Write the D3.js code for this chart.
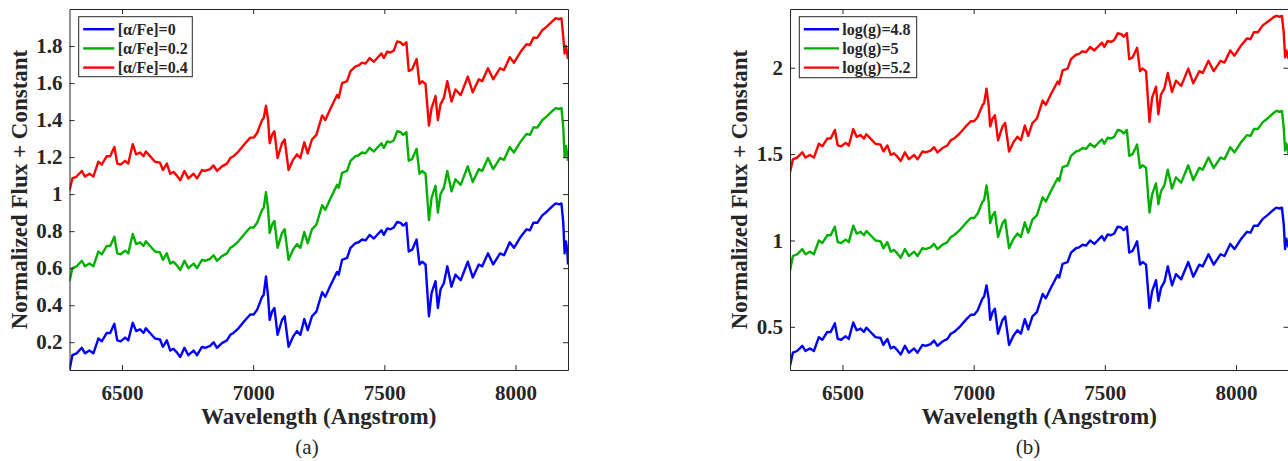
<!DOCTYPE html>
<html><head><meta charset="utf-8">
<script src="https://cdn.jsdelivr.net/npm/d3@7"></script>
<style>
body{margin:0;background:#fff;overflow:hidden}
svg{display:block}
text{font-family:"Liberation Serif","Times New Roman",serif;fill:#262626}
</style>
</head><body><svg id="c" width="1288" height="461"></svg>
<script>
// ---------- DATA ----------
const wavelength = [6300,6311,6327,6347,6359,6376,6391,6410,6423,6442,
6455,6471,6482,6495,6512,6524,6541,6554,6569,6582,
6591,6607,6626,6645,6656,6671,6684,6696,6709,6722,
6738,6753,6773,6786,6805,6817,6836,6849,6862,6881,
6900,6913,6925,6944,6970,6989,7002,7015,7034,7040,
7049,7057,7063,7072,7081,7093,7110,7120,7135,7152,
7167,7180,7195,7208,7224,7241,7263,7275,7294,7320,
7326,7339,7358,7371,7390,7402,7415,7428,7444,7460,
7479,7489,7498,7511,7523,7536,7549,7562,7572,7584,
7593,7606,7623,7634,7644,7657,7670,7680,7695,7704,
7714,7727,7740,7756,7771,7791,7818,7837,7860,7873,
7895,7915,7941,7956,7978,7994,8020,8042,8055,8068,
8083,8102,8119,8141,8153,8166,8175,8182,8187,8192,
8197,8200];

// panel (a)
const alphaFe00 = [0.05,0.13,0.14,0.17,0.14,0.155,0.14,0.22,0.205,0.25,
0.25,0.30,0.21,0.205,0.225,0.21,0.305,0.26,0.27,0.25,
0.275,0.25,0.22,0.215,0.175,0.21,0.155,0.165,0.145,0.12,
0.17,0.13,0.155,0.13,0.175,0.17,0.18,0.20,0.17,0.195,
0.21,0.24,0.25,0.275,0.32,0.35,0.35,0.375,0.445,0.455,
0.555,0.445,0.32,0.365,0.385,0.24,0.32,0.34,0.175,0.23,
0.26,0.24,0.325,0.265,0.34,0.365,0.47,0.445,0.505,0.58,
0.565,0.645,0.655,0.71,0.735,0.74,0.755,0.75,0.78,0.76,
0.79,0.805,0.78,0.815,0.81,0.82,0.85,0.845,0.83,0.845,
0.69,0.70,0.755,0.62,0.635,0.62,0.34,0.465,0.53,0.385,
0.485,0.52,0.61,0.50,0.565,0.535,0.635,0.55,0.62,0.61,
0.68,0.62,0.68,0.67,0.74,0.71,0.77,0.81,0.805,0.845,
0.845,0.885,0.905,0.935,0.95,0.945,0.95,0.845,0.68,0.745,
0.70,0.62];
const alphaFe02 = [0.53,0.60,0.61,0.64,0.61,0.625,0.61,0.69,0.675,0.72,
0.72,0.77,0.68,0.675,0.695,0.68,0.785,0.73,0.74,0.72,
0.745,0.72,0.69,0.685,0.645,0.68,0.625,0.635,0.615,0.59,
0.64,0.60,0.625,0.60,0.645,0.64,0.65,0.67,0.64,0.665,
0.68,0.71,0.72,0.745,0.79,0.82,0.82,0.845,0.915,0.925,
1.01,0.915,0.79,0.835,0.855,0.71,0.79,0.81,0.645,0.70,
0.73,0.71,0.795,0.735,0.81,0.835,0.94,0.915,0.975,1.05,
1.035,1.115,1.125,1.18,1.205,1.21,1.225,1.22,1.25,1.23,
1.26,1.275,1.25,1.285,1.28,1.29,1.34,1.335,1.32,1.335,
1.18,1.19,1.245,1.11,1.125,1.11,0.86,0.98,1.045,0.90,
1.0,1.035,1.125,1.015,1.08,1.05,1.15,1.065,1.135,1.125,
1.195,1.135,1.195,1.185,1.255,1.225,1.285,1.325,1.32,1.36,
1.36,1.40,1.42,1.45,1.465,1.46,1.465,1.36,1.20,1.26,
1.22,1.18];
const alphaFe04 = [1.02,1.085,1.095,1.125,1.095,1.11,1.095,1.175,1.16,1.205,
1.205,1.255,1.165,1.16,1.18,1.165,1.27,1.215,1.225,1.205,
1.23,1.205,1.175,1.17,1.13,1.165,1.11,1.12,1.10,1.075,
1.125,1.085,1.11,1.085,1.13,1.125,1.135,1.155,1.125,1.15,
1.165,1.195,1.205,1.23,1.275,1.305,1.305,1.33,1.40,1.41,
1.477,1.40,1.275,1.32,1.34,1.195,1.275,1.295,1.13,1.185,
1.215,1.195,1.28,1.22,1.295,1.32,1.425,1.40,1.46,1.535,
1.52,1.60,1.61,1.665,1.69,1.695,1.71,1.705,1.735,1.715,
1.745,1.76,1.735,1.77,1.765,1.775,1.825,1.82,1.805,1.82,
1.665,1.675,1.73,1.595,1.61,1.595,1.37,1.465,1.53,1.40,
1.485,1.52,1.61,1.50,1.565,1.535,1.635,1.55,1.62,1.61,
1.68,1.62,1.68,1.67,1.74,1.71,1.77,1.81,1.805,1.845,
1.845,1.885,1.905,1.935,1.95,1.945,1.95,1.85,1.76,1.80,
1.76,1.73];

// panel (b)
const logg48 = [0.275,0.35,0.36,0.39,0.36,0.375,0.36,0.44,0.425,0.47,
0.47,0.52,0.43,0.425,0.445,0.43,0.525,0.48,0.49,0.47,
0.495,0.47,0.44,0.435,0.395,0.43,0.375,0.385,0.365,0.34,
0.39,0.35,0.375,0.35,0.395,0.39,0.40,0.42,0.39,0.415,
0.43,0.46,0.47,0.495,0.54,0.57,0.57,0.595,0.665,0.675,
0.74,0.665,0.54,0.585,0.605,0.46,0.54,0.56,0.395,0.45,
0.48,0.46,0.545,0.485,0.56,0.585,0.69,0.665,0.725,0.80,
0.785,0.865,0.875,0.93,0.955,0.96,0.975,0.97,1.00,0.98,
1.01,1.025,1.00,1.035,1.03,1.04,1.08,1.075,1.06,1.08,
0.93,0.94,0.995,0.86,0.875,0.86,0.608,0.705,0.77,0.65,
0.725,0.76,0.85,0.74,0.805,0.775,0.875,0.79,0.86,0.85,
0.92,0.86,0.92,0.91,0.98,0.95,1.01,1.05,1.045,1.085,
1.085,1.125,1.145,1.175,1.19,1.185,1.19,1.09,0.95,1.01,
0.98,0.96];
const logg50 = [0.824,0.91,0.92,0.95,0.92,0.935,0.92,1.00,0.985,1.03,
1.03,1.08,0.99,0.985,1.005,0.99,1.085,1.04,1.05,1.03,
1.055,1.03,1.00,0.995,0.955,0.99,0.935,0.945,0.925,0.90,
0.95,0.91,0.935,0.91,0.955,0.95,0.96,0.98,0.95,0.975,
0.99,1.02,1.03,1.055,1.10,1.13,1.13,1.155,1.225,1.235,
1.318,1.225,1.10,1.145,1.165,1.02,1.10,1.12,0.955,1.01,
1.04,1.02,1.105,1.045,1.12,1.145,1.25,1.225,1.285,1.36,
1.345,1.425,1.435,1.49,1.515,1.52,1.535,1.53,1.56,1.54,
1.57,1.585,1.56,1.595,1.59,1.60,1.64,1.635,1.62,1.64,
1.49,1.50,1.555,1.42,1.435,1.42,1.162,1.265,1.33,1.21,
1.285,1.32,1.41,1.30,1.365,1.335,1.435,1.35,1.42,1.41,
1.48,1.42,1.48,1.47,1.54,1.51,1.57,1.61,1.605,1.645,
1.645,1.685,1.705,1.735,1.75,1.745,1.75,1.65,1.52,1.56,
1.53,1.50];
const logg52 = [1.393,1.47,1.48,1.51,1.48,1.495,1.48,1.56,1.545,1.59,
1.59,1.64,1.55,1.545,1.565,1.55,1.645,1.60,1.61,1.59,
1.615,1.59,1.56,1.555,1.515,1.55,1.495,1.505,1.485,1.46,
1.51,1.47,1.495,1.47,1.515,1.51,1.52,1.54,1.51,1.535,
1.55,1.58,1.59,1.615,1.66,1.69,1.69,1.715,1.785,1.795,
1.879,1.785,1.66,1.705,1.725,1.58,1.66,1.68,1.515,1.57,
1.60,1.58,1.665,1.605,1.68,1.705,1.81,1.785,1.845,1.92,
1.905,1.985,1.995,2.05,2.075,2.08,2.095,2.09,2.12,2.10,
2.13,2.145,2.12,2.155,2.15,2.16,2.20,2.195,2.18,2.20,
2.05,2.06,2.115,1.98,1.995,1.98,1.686,1.825,1.89,1.73,
1.845,1.88,1.97,1.86,1.925,1.895,1.995,1.91,1.98,1.97,
2.04,1.98,2.04,2.03,2.10,2.07,2.13,2.17,2.165,2.205,
2.205,2.245,2.265,2.29,2.30,2.295,2.30,2.20,2.06,2.10,
2.07,2.05];

const xTicks = [6500,7000,7500,8000];
const yTicksA = [0.2,0.4,0.6,0.8,1,1.2,1.4,1.6,1.8];
const yTicksB = [0.5,1,1.5,2];
const legendA = ["[α/Fe]=0","[α/Fe]=0.2","[α/Fe]=0.4"];
const legendB = ["log(g)=4.8","log(g)=5","log(g)=5.2"];
const seriesColors = ["#0000ff","#00b000","#ff0000"];
const xLabel = "Wavelength (Angstrom)";
const yLabel = "Normalized Flux + Constant";

// ---------- DRAW ----------
const svg = d3.select("#c");
const AX = "#262626";

function panel(opt){
  const {left, top, width, height, xDomain, yDomain, yTicks, series, legend, caption, legendBox, id} = opt;
  const x = d3.scaleLinear().domain(xDomain).range([left, left+width]);
  const y = d3.scaleLinear().domain(yDomain).range([top+height, top]);
  const g = svg.append("g");

  g.append("clipPath").attr("id", "clip"+id).append("rect")
    .attr("x", left).attr("y", top).attr("width", width).attr("height", height);

  const line = d3.line().x((d,i)=>x(wavelength[i])).y(d=>y(d));
  series.forEach((s,i)=>{
    g.append("path").attr("d", line(s)).attr("fill","none")
      .attr("stroke", seriesColors[i]).attr("stroke-width", 2.4)
      .attr("stroke-linejoin","round")
      .attr("clip-path","url(#clip"+id+")");
  });

  const fmt = d => String(+d.toFixed(1));
  const bottom = g.append("g").attr("transform",`translate(0,${top+height})`)
    .call(d3.axisBottom(x).tickValues(xTicks).tickSizeInner(-5).tickSizeOuter(0).tickPadding(15).tickFormat(fmt));
  const topAx = g.append("g").attr("transform",`translate(0,${top})`)
    .call(d3.axisTop(x).tickValues(xTicks).tickSizeInner(-5).tickSizeOuter(0).tickFormat(""));
  const leftAx = g.append("g").attr("transform",`translate(${left},0)`)
    .call(d3.axisLeft(y).tickValues(yTicks).tickSizeInner(-5).tickSizeOuter(0).tickPadding(7).tickFormat(fmt));
  const rightAx = g.append("g").attr("transform",`translate(${left+width},0)`)
    .call(d3.axisRight(y).tickValues(yTicks).tickSizeInner(-5).tickSizeOuter(0).tickFormat(""));
  [bottom, topAx, leftAx, rightAx].forEach(a=>{
    a.selectAll("path,line").attr("stroke", AX).attr("stroke-width", 1);
    a.selectAll("text").attr("fill", AX).style("font-family",'"Liberation Serif","Times New Roman",serif')
      .style("font-size","21px").style("font-weight","bold");
  });

  g.append("text").attr("x", left+width/2).attr("y", top+height+54)
    .attr("text-anchor","middle").style("font-size","23px").style("font-weight","bold").text(xLabel);
  g.append("text").attr("transform",`translate(${left-43},${top+height/2}) rotate(-90)`)
    .attr("text-anchor","middle").style("font-size","23px").style("font-weight","bold").text(yLabel);
  g.append("text").attr("x", opt.captionX).attr("y", 454)
    .attr("text-anchor","middle").style("font-size","21px").text(caption);

  // legend
  const lb = legendBox;
  g.append("rect").attr("x", lb.x).attr("y", lb.y).attr("width", lb.w).attr("height", lb.h)
    .attr("fill","#fff").attr("stroke", AX).attr("stroke-width",1);
  legend.forEach((t,i)=>{
    const cy = lb.y + 12.5 + i*19.2;
    g.append("line").attr("x1", lb.x+4.5).attr("x2", lb.x+lb.lineW).attr("y1", cy).attr("y2", cy)
      .attr("stroke", seriesColors[i]).attr("stroke-width", 2.4);
    g.append("text").attr("x", lb.x+lb.textX).attr("y", cy).attr("dy","0.34em")
      .style("font-size","16px").style("font-weight","bold").text(t);
  });
}

panel({id:"a", left:69.5, top:9, width:498.5, height:361, xDomain:[6300,8200], yDomain:[0.05,2.0],
  yTicks:yTicksA, series:[alphaFe00, alphaFe02, alphaFe04], legend:legendA, caption:"(a)", captionX:307,
  legendBox:{x:78.7, y:16.7, w:113.6, h:60, lineW:35.6, textX:39}});
panel({id:"b", left:790, top:9, width:498.5, height:361, xDomain:[6300,8200], yDomain:[0.25,2.34],
  yTicks:yTicksB, series:[logg48, logg50, logg52], legend:legendB, caption:"(b)", captionX:1028,
  legendBox:{x:799.3, y:16.7, w:117.4, h:61, lineW:39.7, textX:43}});
</script>
</body></html>
